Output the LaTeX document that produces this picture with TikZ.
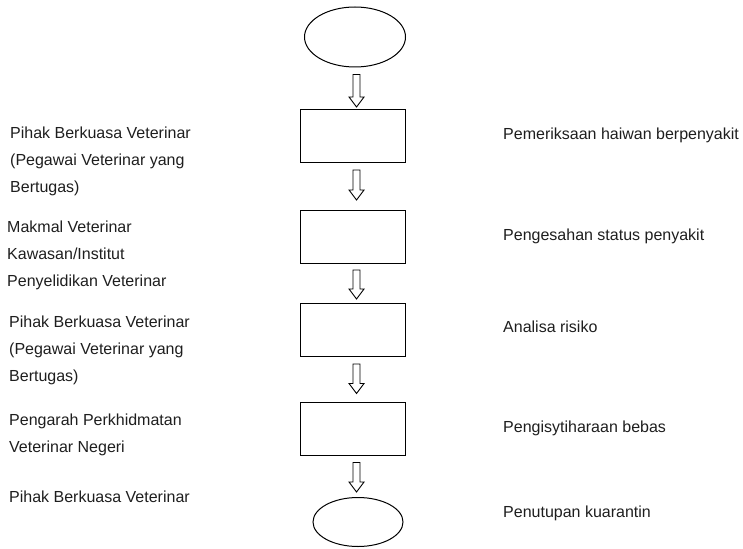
\documentclass[tikz,border=0pt]{standalone}
\usepackage{fontspec}
\setmainfont{Liberation Sans}
\usetikzlibrary{shapes.geometric,calc}
\definecolor{ink}{HTML}{1E1E1E}
\begin{document}
\begin{tikzpicture}[x=1pt,y=-1pt,
    kotak/.style={draw,line width=1pt,minimum width=105pt,minimum height=53pt,inner sep=0pt},
    bujur/.style={draw,ellipse,line width=1pt,inner sep=0pt},
    teks/.style={font=\fontsize{16}{27}\selectfont,text=ink,inner sep=0pt,align=left},
    panah/.style={line width=0.9pt,line join=miter,to path={
        let \p1=(\tikztostart), \p2=(\tikztotarget) in
        (\x1-3.5pt,\y1) -- (\x1+3.5pt,\y1) -- (\x1+3.5pt,\y2+10pt) -- (\x1+7.5pt,\y2+10pt)
        -- (\x1,\y2) -- (\x1-7.5pt,\y2+10pt) -- (\x1-3.5pt,\y2+10pt) -- cycle}}]
    \useasboundingbox (0,0) rectangle (743,548);
    %Flow%
    \node[bujur,minimum width=101pt,minimum height=60pt] (mula) at (355,37) {};
    \node[kotak] (periksa) at (352.5,136) {};
    \node[kotak] (sahkan) at (352.5,237) {};
    \node[kotak] (analisa) at (352.5,330) {};
    \node[kotak] (isytihar) at (352.5,428.5) {};
    \node[bujur,minimum width=90pt,minimum height=49pt] (tutup) at (358,522) {};

    % Arrows %
    \draw[panah] ([xshift=1.5pt,yshift=-7pt]mula.south) to ([xshift=1.5pt,yshift=2pt]periksa.north);
    \draw[panah] ([xshift=4pt,yshift=-7pt]periksa.south) to ([xshift=4pt,yshift=10pt]sahkan.north);
    \draw[panah] ([xshift=4pt,yshift=-6pt]sahkan.south) to ([xshift=4pt,yshift=4pt]analisa.north);
    \draw[panah] ([xshift=4pt,yshift=-7pt]analisa.south) to ([xshift=4pt,yshift=8pt]isytihar.north);
    \draw[panah] ([xshift=4pt,yshift=-7pt]isytihar.south) to ([xshift=-1.5pt,yshift=5pt]tutup.north);

    % Left labels %
    \node[teks,anchor=north west] (pbva) at (10,126.3) {Pihak Berkuasa Veterinar\\(Pegawai Veterinar yang\\Bertugas)};
    \node[teks,anchor=north west] (makmal) at (7,220.3) {Makmal Veterinar\\Kawasan/Institut\\Penyelidikan Veterinar};
    \node[teks,anchor=north west] (pbvb) at (9,315.3) {Pihak Berkuasa Veterinar\\(Pegawai Veterinar yang\\Bertugas)};
    \node[teks,anchor=north west] (pengarah) at (9,413.3) {Pengarah Perkhidmatan\\Veterinar Negeri};
    \node[teks,anchor=base west] (pbvc) at (9,502) {Pihak Berkuasa Veterinar};

    % Right labels %
    \node[teks,anchor=base west] (tperiksa) at (503,140) {Pemeriksaan haiwan berpenyakit};
    \node[teks,anchor=base west] (tsahkan) at (503,240) {Pengesahan status penyakit};
    \node[teks,anchor=base west] (tanalisa) at (503,332) {Analisa risiko};
    \node[teks,anchor=base west] (tisytihar) at (503,432) {Pengisytiharaan bebas};
    \node[teks,anchor=base west] (ttutup) at (503,517) {Penutupan kuarantin};
\end{tikzpicture}
\end{document}
